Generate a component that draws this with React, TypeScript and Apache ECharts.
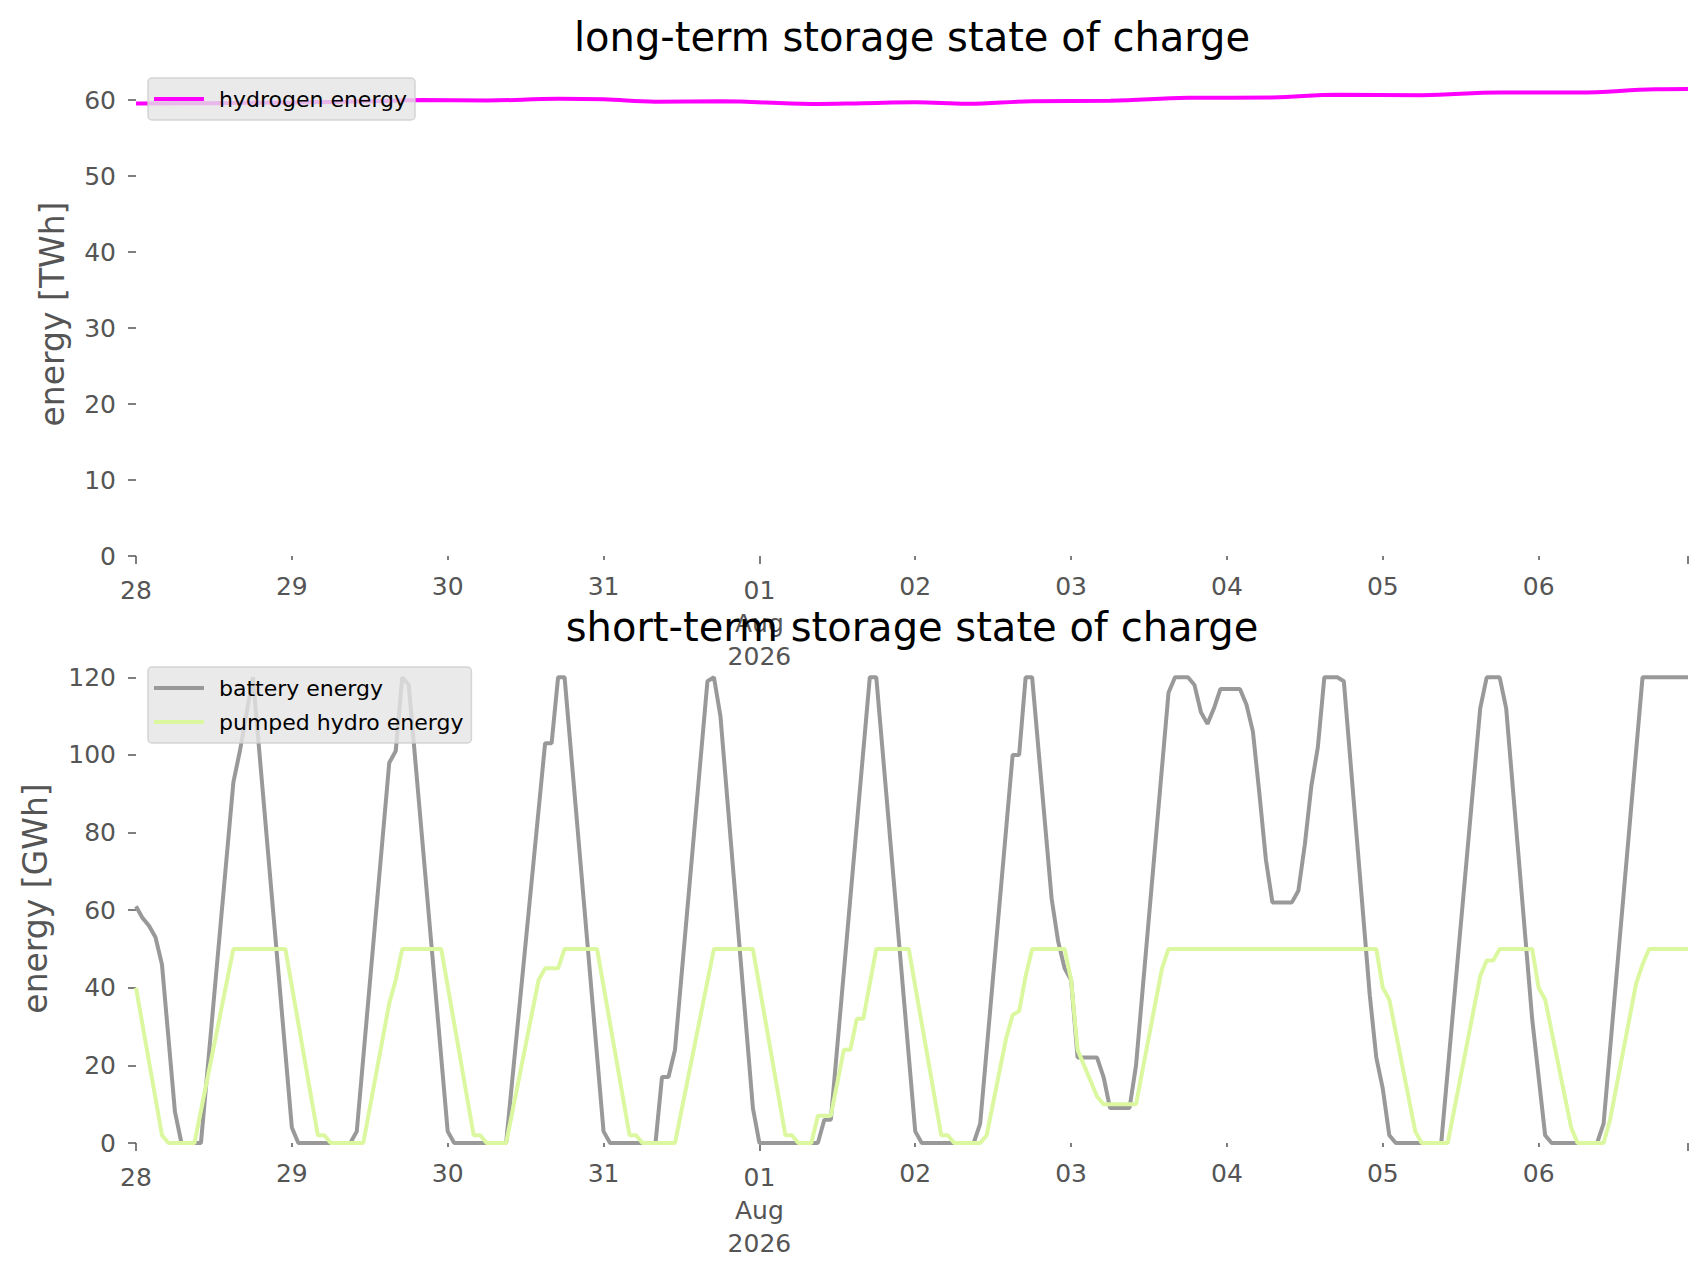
import React, { useEffect, useRef } from "react";
import * as echarts from "echarts";

// x axis: hours since 28 Jul 2026 00:00 (hourly data, last point 06 Aug 23:00)
const DAY_LABELS = ["28", "29", "30", "31", "01", "02", "03", "04", "05", "06"];
const MONTH_LABEL = "Aug\n2026";
const MONTH_START_DAY = 4; // index of "01" in DAY_LABELS
const LAST_HOUR = 239;

const LONG_TICKS = [0, 10, 20, 30, 40, 50, 60];
const SHORT_TICKS = [0, 20, 40, 60, 80, 100, 120];

// [hour, TWh]
const HYDROGEN_TWH = [
  [0, 59.55], [12, 59.6], [24, 59.7], [36, 59.85], [44, 60.0], [54, 59.95],
  [65, 60.17], [72, 60.1], [80, 59.8], [90, 59.85], [104, 59.5], [112, 59.6],
  [120, 59.72], [128, 59.52], [138, 59.85], [150, 59.9], [162, 60.3], [175, 60.35],
  [185, 60.7], [198, 60.65], [210, 61.0], [222, 61.0], [234, 61.42], [239, 61.45],
];

// [hour, GWh]
const BATTERY_GWH = [
  [0, 61], [1, 58], [2, 56], [3, 53], [4, 46], [6, 8], [7, 0], [10, 0], [15, 93],
  [16, 101], [18, 120], [24, 4], [25, 0], [33, 0], [34, 3], [39, 98], [40, 101],
  [41, 120], [42, 118], [48, 3], [49, 0], [57, 0], [63, 103], [64, 103], [65, 120],
  [66, 120], [72, 3], [73, 0], [80, 0], [81, 17], [82, 17], [83, 24], [88, 119],
  [89, 120], [90, 110], [95, 9], [96, 0], [105, 0], [106, 6], [107, 6], [113, 120],
  [114, 120], [120, 3], [121, 0], [129, 0], [130, 5], [135, 100], [136, 100],
  [137, 120], [138, 120], [141, 63], [142, 52], [143, 45], [144, 42], [145, 22],
  [148, 22], [149, 17], [150, 9], [153, 9], [154, 20], [159, 116], [160, 120],
  [162, 120], [163, 118], [164, 111], [165, 108], [166, 112], [167, 117], [170, 117],
  [171, 113], [172, 106], [173, 90], [174, 73], [175, 62], [178, 62], [179, 65],
  [180, 77], [181, 92], [182, 102], [183, 120], [185, 120], [186, 119], [190, 38],
  [191, 22], [192, 14], [193, 2], [194, 0], [201, 0], [207, 112], [208, 120],
  [210, 120], [211, 112], [215, 32], [217, 2], [218, 0], [225, 0], [226, 5],
  [232, 120], [239, 120],
];

const PUMPED_HYDRO_GWH = [
  [0, 40], [4, 2], [5, 0], [9, 0], [15, 50], [23, 50], [28, 2], [29, 2], [30, 0],
  [35, 0], [39, 36], [40, 42], [41, 50], [47, 50], [52, 2], [53, 2], [54, 0], [57, 0],
  [62, 42], [63, 45], [65, 45], [66, 50], [71, 50], [76, 2], [77, 2], [78, 0], [83, 0],
  [89, 50], [95, 50], [100, 2], [101, 2], [102, 0], [104, 0], [105, 7], [107, 7],
  [109, 24], [110, 24], [111, 32], [112, 32], [114, 50], [119, 50], [124, 2], [125, 2],
  [126, 0], [130, 0], [131, 2], [134, 27], [135, 33], [136, 34], [137, 43], [138, 50],
  [143, 50], [144, 42], [145, 24], [146, 20], [147, 16], [148, 12], [149, 10],
  [154, 10], [158, 45], [159, 50], [191, 50], [192, 40], [193, 37], [197, 3], [198, 0],
  [202, 0], [207, 43], [208, 47], [209, 47], [210, 50], [215, 50], [216, 40], [217, 37],
  [221, 4], [222, 0], [226, 0], [227, 6], [231, 41], [232, 46], [233, 50], [239, 50],
];

const FONT = "DejaVu Sans";
const GREY = "#555555";

const dayLabel = (v: number) => {
  const d = Math.round(v / 24);
  return d === MONTH_START_DAY ? DAY_LABELS[d] + "\n" + MONTH_LABEL : DAY_LABELS[d];
};

// two overlapping x axes per grid: long (major) ticks and short (minor) ticks
function xAxes(gridIndex: number) {
  const majorHours = [0, MONTH_START_DAY * 24];
  const minorHours = DAY_LABELS.map((_, i) => i * 24).filter((h) => !majorHours.includes(h));
  const base = {
    type: "value",
    gridIndex,
    position: "bottom",
    min: 0,
    max: LAST_HOUR,
    axisLine: { show: false, onZero: false },
    splitLine: { show: false },
  };
  const label = {
    formatter: dayLabel,
    fontSize: 25,
    lineHeight: 33,
    color: GREY,
    margin: 17.5,
    fontFamily: FONT,
  };
  return [
    {
      ...base,
      axisTick: { show: true, customValues: [...majorHours, LAST_HOUR], length: 8, lineStyle: { color: GREY, width: 1.5 } },
      axisLabel: { ...label, customValues: majorHours },
    },
    {
      ...base,
      axisTick: { show: true, customValues: minorHours, length: 4, lineStyle: { color: GREY, width: 1.5 } },
      axisLabel: { ...label, lineHeight: 25, customValues: minorHours },
    },
  ];
}

function yAxis(gridIndex: number, max: number, ticks: number[], name: string, nameGap: number) {
  return {
    type: "value",
    gridIndex,
    min: 0,
    max,
    axisLine: { show: false },
    splitLine: { show: false },
    axisTick: { show: true, customValues: ticks, length: 8, lineStyle: { color: GREY, width: 1.5 } },
    axisLabel: { customValues: ticks, fontSize: 25, color: GREY, margin: 20, fontFamily: FONT },
    name,
    nameLocation: "middle",
    nameGap,
    nameTextStyle: { fontSize: 33, color: GREY, fontFamily: FONT },
  };
}

function legend(top: number, data: string[]) {
  return {
    left: 148,
    top,
    orient: "vertical",
    data,
    icon: "rect",
    itemWidth: 50,
    itemHeight: 4,
    itemGap: 8,
    padding: [8, 8, 8, 6],
    backgroundColor: "rgba(229,229,229,0.8)",
    borderColor: "rgba(204,204,204,0.8)",
    borderWidth: 1.5,
    borderRadius: 4,
    textStyle: { fontSize: 22, lineHeight: 26, color: "#000", fontFamily: FONT, padding: [0, 0, 0, 10] },
  };
}

function line(name: string, data: number[][], color: string, xAxisIndex: number, yAxisIndex: number, smooth = false) {
  return {
    type: "line",
    name,
    data,
    xAxisIndex,
    yAxisIndex,
    symbol: "none",
    showSymbol: false,
    smooth: smooth ? 0.4 : false,
    lineStyle: { color, width: 4 },
    itemStyle: { color },
  };
}

const titleStyle = { fontSize: 40, fontWeight: "normal", color: "#000", fontFamily: FONT };

export default function App() {
  const ref = useRef<HTMLDivElement>(null);

  useEffect(() => {
    document.body.style.margin = "0";
    const chart = echarts.init(ref.current, null, { renderer: "svg" });
    chart.setOption({
      animation: false,
      backgroundColor: "#fff",
      textStyle: { fontFamily: FONT },
      title: [
        { text: "long-term storage state of charge", left: 912, top: 17, textAlign: "center", padding: 0, textStyle: titleStyle },
        { text: "short-term storage state of charge", left: 912, top: 607, textAlign: "center", padding: 0, textStyle: titleStyle },
      ],
      legend: [
        legend(78, ["hydrogen energy"]),
        legend(667, ["battery energy", "pumped hydro energy"]),
      ],
      grid: [
        { left: 136, right: 18, top: 72, bottom: 721 },
        { left: 136, right: 18, top: 654, bottom: 134 },
      ],
      xAxis: [...xAxes(0), ...xAxes(1)],
      yAxis: [
        yAxis(0, 63.7, LONG_TICKS, "energy [TWh]", 67),
        yAxis(1, 126, SHORT_TICKS, "energy [GWh]", 84),
      ],
      series: [
        line("hydrogen energy", HYDROGEN_TWH, "#ff00ff", 0, 0, true),
        line("battery energy", BATTERY_GWH, "#999999", 2, 1),
        line("pumped hydro energy", PUMPED_HYDRO_GWH, "#dbf8a0", 2, 1),
      ],
    });
    return () => chart.dispose();
  }, []);

  return <div ref={ref} style={{ width: 1706, height: 1277 }} />;
}
